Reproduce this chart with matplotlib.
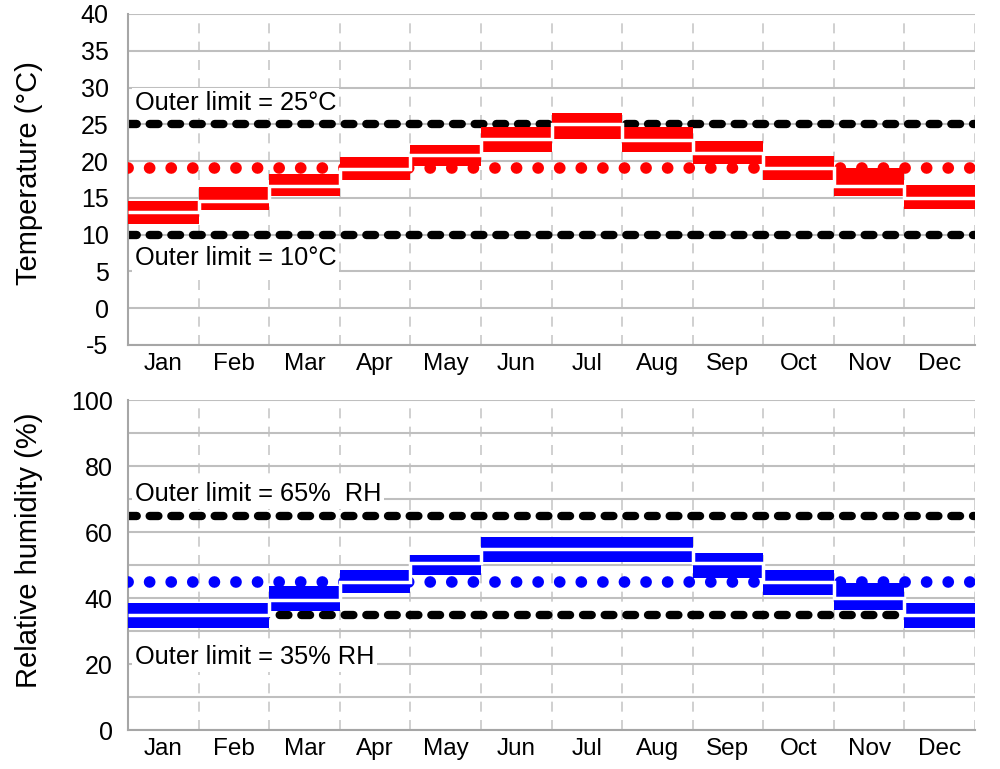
import numpy as np
import matplotlib
matplotlib.use('Agg')
import matplotlib.pyplot as plt

# monthly data
months = ['Jan', 'Feb', 'Mar', 'Apr', 'May', 'Jun', 'Jul', 'Aug', 'Sep', 'Oct', 'Nov', 'Dec']

temp_mean = [13.1, 14.6, 16.6, 18.9, 20.8, 23.0, 25.0, 22.9, 21.1, 19.0, 16.6, 15.0]
temp_low = [11.4, 13.3, 15.2, 17.4, 19.4, 21.2, 23.0, 21.2, 19.6, 17.4, 15.3, 13.5]
temp_high = [14.6, 16.5, 18.2, 20.6, 22.2, 24.7, 26.6, 24.7, 22.8, 20.7, 19.0, 16.8]
temp_limits = [10, 25]
temp_inner = 19

rh_mean = [35, 35, 39.5, 45, 50.5, 55, 55, 55, 50.5, 45, 40, 35]
rh_low = [31, 31, 36, 41.5, 47, 51, 51, 51, 46, 41, 36.5, 31]
rh_high = [38.5, 38.5, 43.5, 48.5, 53, 58.5, 58.5, 58.5, 53.5, 48.5, 44.5, 38.5]
rh_limits = [35, 65]
rh_inner = 45

plt.rcParams['font.family'] = ['Liberation Sans', 'DejaVu Sans']
plt.rcParams['axes.unicode_minus'] = False

fig = plt.figure(figsize=(10, 7.69), dpi=100)
ax1 = fig.add_axes([0.128, 0.5514, 0.847, 0.4304])
ax2 = fig.add_axes([0.128, 0.0507, 0.847, 0.4291])

edges = np.arange(13)
grid_col = '#bfbfbf'


def draw_panel(ax, mean, low, high, limits, inner, color, ylim, major, minor,
               ylabel, texts, ypad, label_y):
    ax.set_xlim(0, 12)
    ax.set_ylim(*ylim)
    ax.set_yticks(major)
    ax.set_yticks(minor, minor=True)
    ax.grid(True, which='both', axis='y', color=grid_col, lw=1.5, zorder=0)
    for k in range(1, 13):
        ax.axvline(k, color='#c8c8c8', lw=1.2, ls=(0, (6, 5)), zorder=0.5)
    ax.set_xticks(edges[:-1] + 0.5)
    ax.set_xticklabels(months)
    ax.tick_params(axis='both', which='both', length=0)
    ax.tick_params(axis='y', pad=ypad, labelsize=18)
    ax.tick_params(axis='x', pad=6, labelsize=17.5)
    for s in ['top', 'right']:
        ax.spines[s].set_visible(False)
    for s in ['left', 'bottom']:
        ax.spines[s].set_color('#a6a6a6')
        ax.spines[s].set_linewidth(1.5)
    ax.set_axisbelow(True)

    for lim in limits:
        ax.axhline(lim, color='black', lw=6.0, ls=(0, (1.05, 1.55)),
                   dash_capstyle='round', zorder=2)
    ax.axhline(inner, color=color, lw=8.4, ls=(0, (0.01, 1.84)),
               dash_capstyle='round', zorder=3)
    ax.stairs(high, edges, baseline=low, fill=True, color=color, lw=0, zorder=4)
    ax.stairs(mean, edges, baseline=None, color='white', lw=2.5, zorder=5)

    for y, s in texts:
        ax.text(0.1, y, s, fontsize=18.3, ha='left', va='center', zorder=6,
                bbox=dict(facecolor='white', edgecolor='none', pad=2))
    ax.set_ylabel(ylabel, fontsize=21)
    ax.yaxis.set_label_coords(-0.100, label_y)


draw_panel(ax1, temp_mean, temp_low, temp_high, temp_limits, temp_inner, '#ff0000',
           (-5, 40), np.arange(-5, 41, 5), [], 'Temperature (°C)',
           [(27.9, 'Outer limit = 25°C'), (6.85, 'Outer limit = 10°C')], 14, 0.52)
draw_panel(ax2, rh_mean, rh_low, rh_high, rh_limits, rh_inner, '#0000ff',
           (0, 100), np.arange(0, 101, 20), np.arange(10, 100, 20),
           'Relative humidity (%)',
           [(71.5, 'Outer limit = 65%  RH'), (22.1, 'Outer limit = 35% RH')], 11, 0.545)

fig.savefig('out.png', dpi=100)
